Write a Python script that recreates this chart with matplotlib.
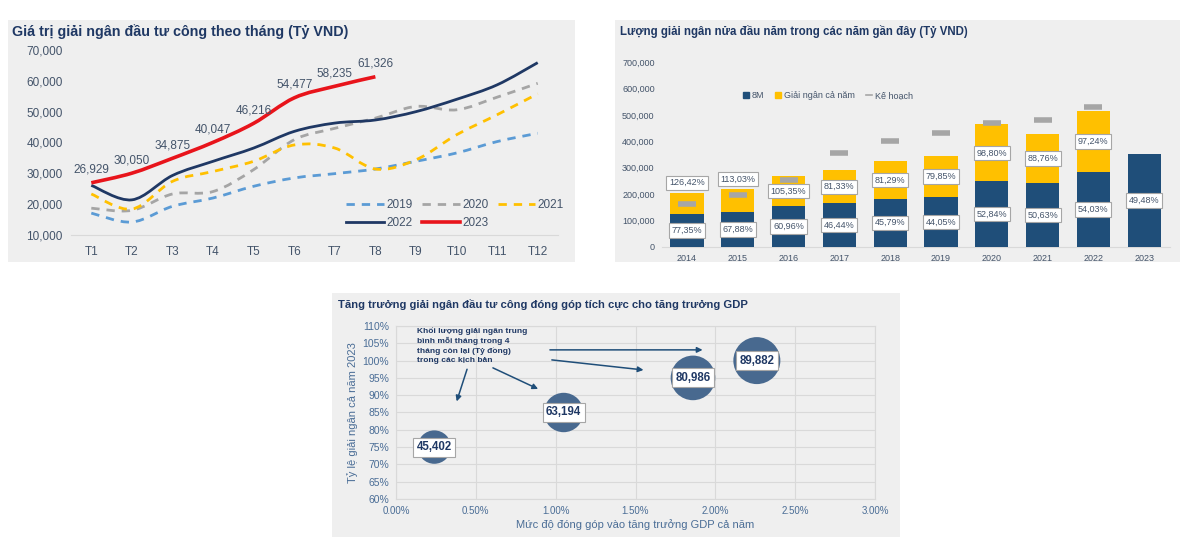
import matplotlib
matplotlib.use('Agg')
import matplotlib.pyplot as plt
import numpy as np
from matplotlib.path import Path
from matplotlib.patches import PathPatch, Rectangle
from matplotlib.lines import Line2D

plt.rcParams['font.family'] = ['Liberation Sans', 'DejaVu Sans']

# --- chart 1: monthly public investment disbursement (bn VND) ---
months = ['T1', 'T2', 'T3', 'T4', 'T5', 'T6', 'T7', 'T8', 'T9', 'T10', 'T11', 'T12']
v2019 = [17100, 14200, 19300, 22000, 25800, 28500, 29900, 31400, 33900, 36600, 40300, 43000]
v2020 = [18700, 18000, 23300, 24100, 31200, 40900, 44600, 47900, 51700, 50600, 54700, 59200]
v2021 = [23300, 18400, 27400, 30600, 33900, 39200, 38200, 31400, 34400, 42500, 49000, 55800]
v2022 = [26100, 21400, 29300, 33900, 38200, 43600, 46300, 47300, 50000, 54000, 58700, 65900]
v2023 = [26929, 30050, 34875, 40047, 46216, 54477, 58235, 61326]

# --- chart 2: disbursement by year ---
years = ['2014', '2015', '2016', '2017', '2018', '2019', '2020', '2021', '2022', '2023']
plan = [163000, 195000, 255000, 357000, 400000, 430000, 470000, 480000, 528000, 711700]
disb_8m = [126000, 132400, 155400, 165800, 183200, 189400, 248300, 243000, 285300, 352100]
disb_full = [206000, 220400, 268600, 290300, 325200, 343400, 464400, 426000, 513400, 0]
pct_8m = ['77,35%', '67,88%', '60,96%', '46,44%', '45,79%', '44,05%', '52,84%', '50,63%', '54,03%', '49,48%']
pct_full = ['126,42%', '113,03%', '105,35%', '81,33%', '81,29%', '79,85%', '98,80%', '88,76%', '97,24%', '']

# --- chart 3: scenarios ---
gdp_contrib = [0.24, 1.05, 1.86, 2.26]
disb_ratio = [75, 85, 95, 100]
monthly_avg = [45402, 63194, 80986, 89882]

NAVY = '#1f3864'
BAR_NAVY = '#1f4e79'
YELLOW = '#ffc000'
TICK = '#44546a'
PANEL_BG = '#efefef'
W, H = 1200, 556


def fx(px):
    return px / W


def fy(py):
    return 1 - py / H


def smooth_path(x, y):
    # bezier curve through the points (like excel's smoothed line)
    pts = np.column_stack([x, y]).astype(float)
    n = len(pts)
    verts = [pts[0]]
    codes = [Path.MOVETO]
    for i in range(n - 1):
        p0 = pts[max(i - 1, 0)]
        p1 = pts[i]
        p2 = pts[i + 1]
        p3 = pts[min(i + 2, n - 1)]
        c1 = p1 + (p2 - p0) / 6
        c2 = p2 - (p3 - p1) / 6
        verts += [c1, c2, p2]
        codes += [Path.CURVE4] * 3
    return Path(verts, codes)


fig = plt.figure(figsize=(12, 5.56), dpi=100)

# panel backgrounds
for (x0, y0, x1, y1) in [(8, 20, 575, 262), (615, 20, 1180, 262), (332, 293, 900, 537)]:
    fig.patches.append(Rectangle((fx(x0), fy(y1)), fx(x1 - x0), (y1 - y0) / H,
                                 transform=fig.transFigure, facecolor=PANEL_BG,
                                 edgecolor='none', zorder=-5))

# ---------- chart 1 ----------
ax1 = fig.add_axes([fx(71), fy(235), fx(487), 185 / H])
ax1.set_facecolor('none')
x = np.arange(len(months))
series = [
    (v2019, '#5b9bd5', (0, (3, 2.5)), '2019'),
    (v2020, '#a5a5a5', (0, (3, 2.5)), '2020'),
    (v2021, YELLOW, (0, (3, 2.5)), '2021'),
    (v2022, NAVY, '-', '2022'),
    (v2023, '#e8141b', '-', '2023'),
]
handles = {}
for vals, col, ls, lab in series:
    lw = 2.6 if lab == '2023' else 2.0
    xs = x[:len(vals)]
    ax1.add_patch(PathPatch(smooth_path(xs, vals), facecolor='none', edgecolor=col,
                            lw=lw, linestyle=ls, capstyle='butt', zorder=3))
    handles[lab] = Line2D([], [], color=col, lw=lw, linestyle=ls)

for i, v in enumerate(v2023):
    ax1.annotate(f'{v:,}', (i, v), xytext=(0, 5), textcoords='offset points',
                 ha='center', va='bottom', fontsize=8.5, color=TICK)

ax1.set_xlim(-0.5, 11.5)
ax1.set_ylim(10000, 70000)
ax1.set_yticks(range(10000, 70001, 10000))
ax1.set_yticklabels([f'{v:,}' for v in range(10000, 70001, 10000)])
ax1.set_xticks(x)
ax1.set_xticklabels(months)
ax1.tick_params(length=0, labelsize=8.5, labelcolor=TICK, pad=8)
ax1.tick_params(axis='y', pad=6)
for s in ['top', 'right', 'left']:
    ax1.spines[s].set_visible(False)
ax1.spines['bottom'].set_color('#d9d9d9')
order = ['2019', '2022', '2020', '2023', '2021']
fig.legend([handles[k] for k in order], order, ncol=3, loc='center',
           bbox_to_anchor=(fx(455), fy(214)), frameon=False, fontsize=8.5,
           labelcolor=TICK, handlelength=3.2, handletextpad=0.2,
           columnspacing=0.8, labelspacing=0.45)
fig.text(fx(12), fy(32), 'Giá trị giải ngân đầu tư công theo tháng (Tỷ VND)',
         fontsize=10.3, fontweight='bold', color=NAVY, va='center')

# ---------- chart 2 ----------
ax2 = fig.add_axes([fx(661.6), fy(247), fx(508), 185 / H])
ax2.set_facecolor('none')
xb = np.arange(len(years))
ax2.bar(xb, disb_full, width=0.65, color=YELLOW, zorder=2)
ax2.bar(xb, disb_8m, width=0.65, color=BAR_NAVY, zorder=3)
ax2.scatter(xb, plan, marker='_', s=160, linewidths=4, color='#a6a6a6', zorder=4)
box = dict(boxstyle='square,pad=0.3', facecolor='white', edgecolor='#a6a6a6', lw=0.8)
for i in range(len(years)):
    ax2.text(xb[i], disb_8m[i] / 2, pct_8m[i], ha='center', va='center',
             fontsize=6.5, color=TICK, bbox=box, zorder=5)
    if pct_full[i]:
        seg = disb_full[i] - disb_8m[i]
        ypos = disb_full[i] + 37000 if seg < 100000 else disb_8m[i] + seg / 2
        ax2.text(xb[i], ypos, pct_full[i], ha='center', va='center',
                 fontsize=6.5, color=TICK, bbox=box, zorder=5)
ax2.set_xlim(-0.5, 9.5)
ax2.set_ylim(0, 700000)
ax2.set_yticks(range(0, 700001, 100000))
ax2.set_yticklabels([f'{v:,}' for v in range(0, 700001, 100000)])
ax2.set_xticks(xb)
ax2.set_xticklabels(years)
ax2.tick_params(length=0, labelsize=6.5, labelcolor=TICK, pad=5)
ax2.tick_params(axis='y', pad=5)
for s in ['top', 'right', 'left']:
    ax2.spines[s].set_visible(False)
ax2.spines['bottom'].set_color('#d9d9d9')
leg2 = [Line2D([], [], marker='s', color=BAR_NAVY, lw=0, markersize=4),
        Line2D([], [], marker='s', color=YELLOW, lw=0, markersize=4),
        Line2D([], [], color='#a6a6a6', lw=1.2)]
fig.legend(leg2, ['8M', 'Giải ngân cả năm', 'Kế hoạch'], ncol=3, loc='center',
           bbox_to_anchor=(fx(828), fy(96)), frameon=False, fontsize=6.5,
           labelcolor=TICK, handlelength=0.7, handletextpad=0.3, columnspacing=1.2)
fig.text(fx(620), fy(31), 'Lượng giải ngân nửa đầu năm trong các năm gần đây (Tỷ VND)',
         fontsize=8.3, fontweight='bold', color=NAVY, va='center')

# ---------- chart 3 ----------
ax3 = fig.add_axes([fx(396), fy(499), fx(479), 173 / H])
ax3.set_facecolor('none')
ax3.scatter(gdp_contrib, disb_ratio, s=np.array(monthly_avg) * 0.01274,
            color='#48698f', edgecolor='none', zorder=3)
box3 = dict(boxstyle='square,pad=0.3', facecolor='white', edgecolor='#a6a6a6', lw=0.8)
for gx, gy, v in zip(gdp_contrib, disb_ratio, monthly_avg):
    ax3.text(gx, gy, f'{v:,}', ha='center', va='center', fontsize=8.3,
             fontweight='bold', color=NAVY, bbox=box3, zorder=4)
ax3.text(0.13, 109.8, 'Khối lượng giải ngân trung\nbình mỗi tháng trong 4\n'
         'tháng còn lại (Tỷ đồng)\ntrong các kịch bản', fontsize=6, fontweight='bold',
         color=NAVY, va='top', ha='left', linespacing=1.35, zorder=5)
arrows = [((0.445, 97.5), (0.38, 88.2)),
          ((0.607, 97.9), (0.89, 91.8)),
          ((0.976, 100.2), (1.55, 97.3)),
          ((0.964, 103.1), (1.92, 103.1))]
for start, end in arrows:
    ax3.annotate('', xy=end, xytext=start,
                 arrowprops=dict(arrowstyle='-|>', color=BAR_NAVY, lw=1.1,
                                 mutation_scale=8, shrinkA=0, shrinkB=0), zorder=5)
ax3.set_xlim(0, 3)
ax3.set_ylim(60, 110)
ax3.set_xticks(np.arange(0, 3.01, 0.5))
ax3.set_xticklabels([f'{v:.2f}%' for v in np.arange(0, 3.01, 0.5)])
ax3.set_yticks(range(60, 111, 5))
ax3.set_yticklabels([f'{v}%' for v in range(60, 111, 5)])
ax3.grid(True, color='#d9d9d9', lw=0.8, zorder=0)
ax3.set_axisbelow(True)
ax3.tick_params(length=0, labelcolor='#4a6d96', pad=5)
ax3.tick_params(axis='x', labelsize=7)
ax3.tick_params(axis='y', labelsize=7.5)
for s in ax3.spines.values():
    s.set_color('#d9d9d9')
ax3.set_xlabel('Mức độ đóng góp vào tăng trưởng GDP cả năm', fontsize=8,
               color='#4a6d96', labelpad=2)
ax3.set_ylabel('Tỷ lệ giải ngân cả năm 2023', fontsize=8, color='#4a6d96', labelpad=3)
fig.text(fx(338), fy(304), 'Tăng trưởng giải ngân đầu tư công đóng góp tích cực cho tăng trưởng GDP',
         fontsize=8.1, fontweight='bold', color=NAVY, va='center')

fig.savefig('out.png', dpi=100, facecolor='white')
